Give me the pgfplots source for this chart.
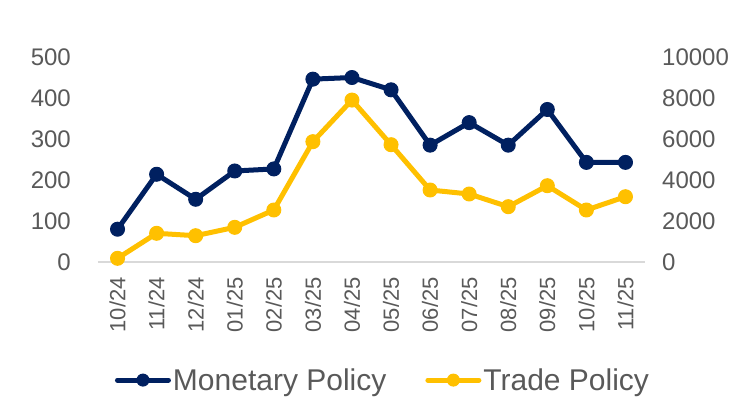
\documentclass[border=0pt]{standalone}
\usepackage{fontspec}
\setmainfont{Liberation Sans}
\usepackage{pgfplots}
\pgfplotsset{compat=1.18}
\definecolor{navy}{HTML}{002060}
\definecolor{gold}{HTML}{FFC000}
\definecolor{txt}{HTML}{595959}
\definecolor{base}{HTML}{D9D9D9}
\pgfplotstableread{
x mon trade
0 80 180
1 214 1400
2 153 1283
3 222 1692
4 227 2537
5 446 5870
6 450 7900
7 420 5722
8 285 3512
9 340 3317
10 285 2698
11 372 3722
12 243 2537
13 243 3185
}\data
\begin{document}
\begin{tikzpicture}[x=1pt,y=1pt]
\path[use as bounding box] (-98,-143) rectangle (632,262);
\pgfplotsset{
  common/.style={scale only axis, width=547pt, height=205pt,
    xmin=-0.5, xmax=13.5, at={(0,0)}, anchor=south west,
    ticklabel style={font=\fontsize{24}{26}\selectfont, text=txt, inner sep=0pt},
    major tick length=0pt,
    scaled ticks=false,
    /pgf/number format/assume math mode=true,
    /pgf/number format/1000 sep={},
    clip=false},
  myline/.style={line width=5pt, line cap=round, line join=round, mark=*, mark size=7pt, every mark/.append style={line width=1pt}},
}
\begin{axis}[common,
  axis x line*=bottom, axis y line*=left,
  x axis line style={draw=base, line width=1.2pt, -},
  y axis line style={draw=none},
  ymin=0, ymax=500, ytick={0,100,...,500},
  xtick={0,...,13},
  xticklabels={10/24,11/24,12/24,01/25,02/25,03/25,04/25,05/25,06/25,07/25,08/25,09/25,10/25,11/25},
  xticklabel style={rotate=90, anchor=east, font=\fontsize{22}{24}\selectfont},
  xticklabel shift=15pt,
  yticklabel shift=27pt,
]
\addplot[myline, color=navy] table[x=x, y=mon] {\data};
\end{axis}
\begin{axis}[common,
  axis x line=none, axis y line*=right,
  y axis line style={draw=none},
  ymin=0, ymax=10000, ytick={0,2000,...,10000},
  yticklabel shift=17pt,
  yticklabel style={anchor=west},
  legend style={at={(0.521,-0.576)}, anchor=center, draw=none, fill=none,
    legend columns=2, font=\fontsize{30}{32}\selectfont, text=txt,
    nodes={inner sep=2pt},
    /tikz/every even column/.append style={column sep=37pt}},
  legend cell align=left,
  legend image code/.code={\draw[#1, mark size=6pt, mark repeat=2, mark phase=2] plot coordinates {(0pt,0pt) (25.5pt,0pt) (51pt,0pt)};},
]
\addlegendimage{myline, color=navy}
\addlegendentry{Monetary Policy}
\addplot[myline, color=gold] table[x=x, y=trade] {\data};
\addlegendentry{Trade Policy}
\end{axis}
\end{tikzpicture}
\end{document}
